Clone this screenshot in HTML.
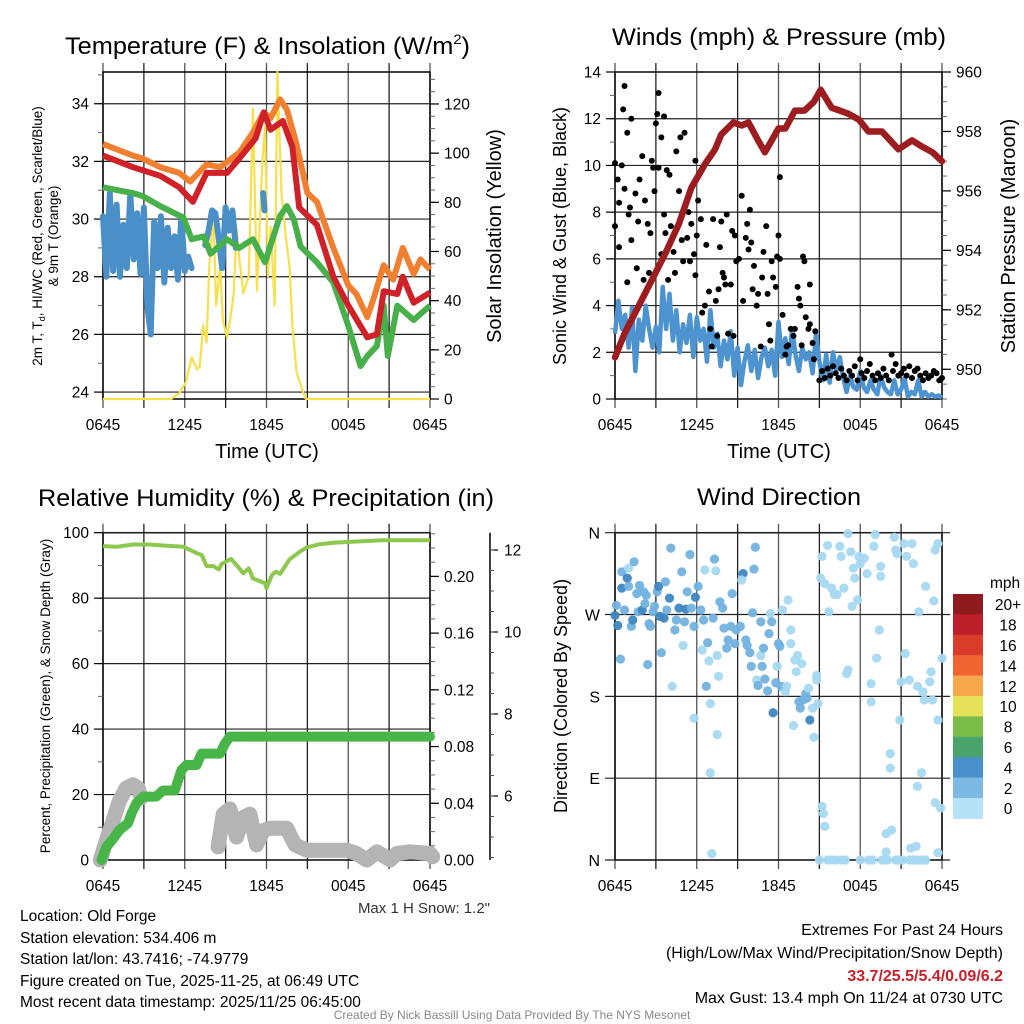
<!DOCTYPE html>
<html><head><meta charset="utf-8"><style>
html,body{margin:0;padding:0;background:#fff;}
svg{display:block;font-family:"Liberation Sans",sans-serif;}
</style></head><body>
<svg id="fig" width="1024" height="1024" viewBox="0 0 1024 1024" xmlns="http://www.w3.org/2000/svg">
<rect width="1024" height="1024" fill="#fff"/>
<text x="65" y="54" font-size="24" textLength="405" lengthAdjust="spacingAndGlyphs">Temperature (F) &amp; Insolation (W/m<tspan font-size="14" dy="-10">2</tspan><tspan dy="10">)</tspan></text>
<text x="612" y="45" font-size="24" textLength="334" lengthAdjust="spacingAndGlyphs">Winds (mph) &amp; Pressure (mb)</text>
<text x="38" y="506" font-size="24" textLength="456" lengthAdjust="spacingAndGlyphs">Relative Humidity (%) &amp; Precipitation (in)</text>
<text x="697" y="505" font-size="24" textLength="164" lengthAdjust="spacingAndGlyphs">Wind Direction</text>

<text x="267" y="458" font-size="20" text-anchor="middle">Time (UTC)</text>
<text x="779" y="458" font-size="20" text-anchor="middle">Time (UTC)</text>
<text transform="translate(42,236) rotate(-90)" font-size="13.5" text-anchor="middle">2m T, T<tspan font-size="9" dy="3">d</tspan><tspan dy="-3">, HI/WC (Red, Green, Scarlet/Blue)</tspan></text>
<text transform="translate(58,236) rotate(-90)" font-size="13.5" text-anchor="middle">&amp; 9m T (Orange)</text>
<text transform="translate(501,236) rotate(-90)" font-size="20" text-anchor="middle">Solar Insolation (Yellow)</text>
<text transform="translate(566,236) rotate(-90)" font-size="18" text-anchor="middle">Sonic Wind &amp; Gust (Blue, Black)</text>
<text transform="translate(1015,236) rotate(-90)" font-size="20" text-anchor="middle">Station Pressure (Maroon)</text>
<text transform="translate(50,696) rotate(-90)" font-size="13.5" text-anchor="middle">Percent, Precipitation (Green), &amp; Snow Depth (Gray)</text>
<text transform="translate(567,696) rotate(-90)" font-size="18" text-anchor="middle">Direction (Colored By Speed)</text>

<text x="490" y="913" font-size="15" text-anchor="end" fill="#333">Max 1 H Snow: 1.2"</text>
<g font-size="15.5" fill="#000">
<text x="20" y="921">Location: Old Forge</text>
<text x="20" y="943">Station elevation: 534.406 m</text>
<text x="20" y="964">Station lat/lon: 43.7416; -74.9779</text>
<text x="20" y="986">Figure created on Tue, 2025-11-25, at 06:49 UTC</text>
<text x="20" y="1007">Most recent data timestamp: 2025/11/25 06:45:00</text>
</g>
<g font-size="16" text-anchor="end">
<text x="1003" y="935">Extremes For Past 24 Hours</text>
<text x="1003" y="958">(High/Low/Max Wind/Precipitation/Snow Depth)</text>
<text x="1003" y="981" fill="#c8202a" font-weight="bold">33.7/25.5/5.4/0.09/6.2</text>
<text x="1003" y="1003">Max Gust: 13.4 mph On 11/24 at 0730 UTC</text>
</g>
<text x="512" y="1019" font-size="12" text-anchor="middle" fill="#888">Created By Nick Bassill Using Data Provided By The NYS Mesonet</text>
<g id="layer"></g>
</svg>
<script>
// ---------- DATA ----------
const xTickLabels = ["0645","1245","1845","0045","0645"];
// Temperature panel (hours since 0645)
const orangeT = [0,2.2,2.9,4.2,5.6,6.4,7.6,8.6,10,11,11.8,12.3,13,13.5,14.2,15,15.7,16.9,18,18.6,19.4,19.9,20.6,21.3,22,22.8,23.3,24];
const orangeV = [32.6,32.2,32.1,31.8,31.6,31.3,31.9,31.8,32.3,33.0,33.7,33.5,34.15,33.8,32.6,30.9,30.6,29.0,27.7,27.4,26.6,27.3,28.4,27.9,29.0,28.1,28.6,28.25];
const redT = [0,2.2,4.2,5.6,6.6,7.6,9.1,10,11.2,11.8,12.3,13.2,13.9,14.4,15.7,16.9,18,19.4,20.1,20.6,21.6,22,22.8,24];
const redV = [32.2,31.8,31.5,31.1,30.6,31.6,31.6,32.1,32.8,33.7,33.1,33.4,32.5,30.4,29.8,28.0,27.0,25.9,26.0,27.5,27.4,28.0,27.1,27.45];
const greenT = [0,2.2,2.9,4.2,5.9,6.5,7.4,7.9,9.1,10,11,11.9,12.985,13.5,14,14.5,15.7,16.9,18,18.9,19.4,20.1,20.6,20.9,21.6,22.8,24];
const greenV = [31.1,30.9,30.8,30.45,30.05,29.3,29.4,28.8,29.3,29.0,29.3,28.5,30.1,30.45,30.0,29.05,28.5,27.8,26.3,24.9,25.25,25.6,27.0,25.25,27.0,26.5,27.0];
const dewT = [0,.25,.5,.75,1,1.25,1.5,1.75,2,2.25,2.5,2.75,3,3.25,3.5,3.75,4,4.25,4.5,4.75,5,5.25,5.5,5.75,6,6.25,6.5,null,7.5,7.75,8,8.25,8.5,8.75,9,9.25,9.5,9.75,null,11.75,11.85];
const dewV = [30.1,28.0,30.9,28.2,30.5,28.0,29.8,28.3,30.9,28.6,30.2,28.1,30.4,27.0,26.0,29.9,28.3,30.1,27.8,29.7,28.3,29.4,27.9,30.1,28.2,28.7,28.3,null,29.1,29.6,30.3,30.2,29.3,28.3,30.4,29.6,30.3,29.0,null,30.9,30.3];
const solarT = [0,5,5.6,6.1,6.5,6.9,7.1,7.35,7.6,7.8,8.1,8.3,8.6,8.8,9.1,9.3,9.6,9.8,10.0,10.3,10.7,11.0,11.3,11.7,11.9,12.1,12.3,12.6,12.8,13.1,13.4,13.7,13.9,14.2,14.7,14.9,24];
const solarV = [0,0,2.4,7,17,12,13,30,23,54,76,38,54,32,25,31,43,70,57,43,50,118,44,97,111,50,70,38,133,84,67,53,30,11,2.4,0,0];
// Wind panel
const windStep = 0.25;
const windV = [2.8,4.2,3.0,3.6,2.2,3.9,1.2,3.4,2.5,4.0,3.0,2.2,3.1,2.0,4.8,3.0,
 4.5,2.5,3.8,2.0,3.2,2.4,3.6,1.8,3.5,2.5,3.0,1.6,3.8,2.2,2.8,1.4,
 2.5,1.7,2.9,1.0,2.2,0.6,1.6,2.3,1.2,2.1,0.9,1.8,2.2,1.4,2.1,1.0,
 3.3,1.8,2.6,1.5,3.0,1.9,1.2,2.2,1.7,2.0,1.1,2.8,1.6,0.8,1.9,0.7,
 2.0,1.2,1.8,0.9,0.3,1.0,0.5,0.4,1.2,0.5,0.3,0.8,0.4,0.2,1.0,0.5,
 0.3,0.2,0.8,0.2,0.4,0.9,0.1,0.3,0.2,0.8,0.1,0.3,0.1,0.2,0.1,0.15,0.05];
const gustT = [0,0,0.2,0.3,0.3,0.5,0.6,0.7,0.7,0.9,0.9,1.0,1.1,1.2,1.2,1.5,1.6,1.7,1.8,2.0,2.1,2.2,2.4,2.5,2.6,2.7,2.8,2.9,3.0,3.1,3.2,3.2,3.4,3.4,3.6,3.6,3.7,3.8,3.9,4.0,4.1,4.3,4.4,4.5,4.7,4.8,4.9,5.0,5.1,5.3,5.4,5.5,5.6,5.8,5.9,5.9,6.0,6.1,6.3,6.4,6.6,6.7,6.9,7.0,7.1,7.2,7.4,7.5,7.6,7.7,7.8,7.9,8.0,8.1,8.2,8.3,8.5,8.6,8.7,8.8,8.9,9.1,9.3,9.4,9.6,9.7,9.8,9.9,10.0,10.1,10.2,10.4,10.5,10.7,10.8,10.9,11.1,11.2,11.3,11.4,11.5,11.6,11.8,11.9,12.0,12.1,12.1,12.3,12.5,12.6,12.7,12.9,13.1,13.2,13.4,13.5,13.6,13.7,13.8,13.9,14.0,14.2,14.3,14.3,14.5,14.6,14.7,
 15.0,15.2,15.4,15.6,15.8,16.0,16.2,16.4,16.6,16.8,17.0,17.2,17.4,17.6,17.8,18.0,18.1,18.3,18.5,18.7,18.9,19.1,19.3,19.5,19.7,19.9,20.1,20.3,20.4,20.6,20.8,21.0,21.2,21.4,21.6,21.8,22.0,22.2,22.4,22.6,22.8,23.0,23.2,23.4,23.6,23.8,24.0];
const gustV = [10.1,7.4,9.4,8.4,6.5,10.0,12.4,13.4,9.0,11.4,5.0,7.9,8.2,12.0,6.8,8.8,5.6,7.6,9.4,10.4,5.1,8.5,7.5,5.4,7.1,10.2,9.9,8.9,11.8,12.2,9.9,13.1,11.2,6.2,12.1,7.9,7.1,9.8,5.1,9.6,7.4,6.3,5.4,10.6,8.9,11.2,6.8,5.9,11.4,6.9,8.0,5.9,7.5,6.2,5.3,10.2,7.0,8.5,7.7,3.7,4.0,6.6,4.6,3.0,2.25,7.7,4.2,2.7,4.7,6.5,7.6,5.4,5.2,4.9,7.9,2.8,4.9,7.2,2.7,7.0,5.9,6.0,8.7,4.2,6.9,7.5,6.4,8.1,6.7,4.7,5.7,4.0,4.5,2.25,5.2,6.3,7.4,4.5,3.2,2.5,5.9,5.2,4.8,6.1,7.0,9.5,6.0,3.6,1.9,2.25,2.3,3.0,2.7,3.0,4.8,4.3,4.0,2.3,6.1,5.9,3.5,3.0,4.9,3.2,2.4,1.7,2.9,
 0.8,1.2,0.9,1.3,1.0,1.4,1.1,0.9,1.3,1.0,0.8,1.2,1.0,1.4,0.8,1.7,1.1,0.9,1.2,1.5,1.0,0.8,1.1,0.9,1.3,1.0,0.8,1.9,1.2,1.5,1.0,1.1,1.3,1.0,1.4,0.9,1.2,1.3,1.0,0.8,1.1,0.9,1.0,1.2,1.1,0.8,0.9];
const presT = [0,0.7,1.7,2.7,3.7,4.7,5.6,6.6,7.35,7.8,8.7,9.3,9.8,10.5,11.0,11.5,12.0,12.5,13.2,13.9,14.6,15.1,15.9,17.1,17.9,18.6,19.6,20.8,21.8,22.5,23.3,24];
const presV = [950.4,951.2,952.1,953.0,953.9,954.9,956.1,956.9,957.4,957.9,958.3,958.2,958.3,957.7,957.3,957.7,958.1,958.1,958.7,958.7,959.0,959.4,958.8,958.6,958.4,958.0,958.0,957.4,957.7,957.5,957.3,957.0];
// RH / precip / snow
const rhT = [0,1,2.2,3.4,4.7,5.9,6.4,6.9,7.25,7.6,8.1,8.5,8.7,9.4,9.9,10.3,10.7,11.0,11.5,11.9,12.0,12.4,12.7,13.0,13.7,14.45,14.95,15.9,16.9,18.1,20.6,24];
const rhV = [95.9,95.7,96.4,96.4,96.0,95.7,94.7,93.7,93.2,89.8,89.8,88.8,90.4,92.0,89.6,87.6,89.1,86.0,85.2,84.5,83.0,87.1,88.1,87.4,91.9,94.2,95.5,96.5,96.9,97.2,97.7,97.7];
const precipT = [-0.1,0.25,0.75,1.2,1.84,2.1,2.45,2.94,3.9,4.4,5.27,5.76,6.13,6.86,7.24,8.58,8.95,9.31,24];
const precipV = [0,0.0094,0.015,0.021,0.026,0.033,0.04,0.0447,0.0447,0.049,0.049,0.0635,0.067,0.067,0.075,0.075,0.082,0.087,0.087];
const snowT = [-0.2,0.25,0.74,1.2,1.7,2.2,2.57,2.8,null,8.45,8.82,9.31,9.8,10.3,10.78,11.27,11.76,12.25,13.48,14.1,14.95,17.9,18.6,19.36,20.1,21.08,21.57,22.55,24,24.2];
const snowV = [0,6,12,18,22,23,22,19,null,4,14,15.6,7,13,14,4.6,9,9.7,9.7,4.6,3,3,2,0,2.5,0,2,2.5,2,1];
// Wind direction scatter
const dirT = [0,0.1,0.2,0.5,0.5,0.4,0.7,0.9,1.0,1.0,1.2,1.3,1.4,1.6,1.7,1.8,2.0,2.1,2.2,2.3,2.4,2.5,2.6,2.8,2.9,3.1,3.2,3.3,3.4,3.6,3.7,3.8,4.0,4.1,4.2,4.4,4.5,4.7,4.9,5.0,5.1,5.2,5.3,5.5,5.6,5.8,5.9,6.1,5.8,6.3,6.4,6.5,6.6,6.7,6.8,6.9,7.0,7.0,7.1,7.2,7.3,7.4,7.5,7.5,7.6,7.7,7.9,8.0,8.2,8.3,8.5,8.6,8.8,8.9,9.2,9.4,9.3,9.6,9.7,9.9,10.0,10.1,10.2,10.3,10.4,10.5,10.7,10.7,10.8,10.9,11.0,11.2,11.3,11.4,11.5,11.6,11.8,11.9,12.0,12.1,12.2,12.3,12.5,12.6,12.7,12.9,12.9,13.1,13.2,13.3,13.4,13.5,13.6,13.7,13.8,14.0,14.1,14.2,14.3,14.5,14.6,14.8,14.8,14.9,
 15.1,15.2,15.2,15.3,15.4,15.4,15.6,15.7,15.9,16.1,16.3,16.5,16.6,16.8,17.0,17.1,17.1,17.3,17.4,17.5,17.6,17.8,17.9,18.0,18.3,18.5,18.8,18.8,19.0,19.1,19.2,19.4,19.5,19.5,19.9,19.9,20.2,20.2,20.3,20.5,20.6,20.7,20.9,21.0,21.2,21.3,21.4,21.6,21.7,21.8,21.9,22.1,22.2,22.2,22.3,22.5,22.6,22.7,22.8,23.1,23.2,23.3,23.4,23.5,23.5,23.7,23.7,23.9,24.0,23.7,
 15.0,15.6,15.9,16.2,16.6,16.9,18.0,18.6,18.9,19.6,19.8,20.0,20.6,20.8,21.1,21.6,21.9,22.1,22.4,22.6,22.8];
const dirV = [269,280,258,317,299,221,275,310,321,301,257,264,328,293,273,302,275,295,282,291,215,260,257,273,279,295,301,268,228,266,306,275,288,343,191,253,264,277,317,236,262,276,295,336,277,257,289,301,156,275,231,264,319,191,239,219,172,96,7,266,331,318,225,138,202,284,277,255,233,242,257,293,238,253,257,315,308,242,236,228,213,272,320,344,198,192,262,225,213,233,199,186,249,271,262,162,195,213,238,235,191,275,185,191,286,253,238,148,220,207,225,174,167,216,176,183,178,189,154,167,135,198,203,172,
 310,334,59,51,37,304,346,273,299,292,292,345,334,299,205,209,359,339,279,321,310,286,334,326,332,315,194,174,345,358,222,253,312,323,9,29,117,101,33,355,341,337,154,196,348,227,334,198,13,348,326,15,81,191,273,96,185,176,301,196,207,176,285,341,63,348,154,57,222,8,
 0,0,0,0,0,0,0,0,0,0,0,0,0,0,0,0,0,0,0,0,0];
const dirSpd = [3,2,3,2,3,2,2,3,1,2,2,3,2,2,2,2,3,2,2,2,2,2,2,2,2,2,3,3,2,3,2,2,3,2,1,2,2,3,2,1,2,3,2,2,2,2,3,2,1,2,1,2,1,2,2,1,1,1,1,2,2,1,1,1,1,2,2,2,2,2,2,2,2,2,2,3,1,2,2,2,2,2,2,2,1,2,2,1,2,2,2,2,2,1,2,3,2,1,2,2,2,1,1,1,1,1,1,1,1,1,1,2,2,1,2,2,2,1,3,1,1,1,1,1,
 1,1,1,1,1,1,1,1,1,1,1,1,1,1,1,1,1,1,1,1,1,1,1,1,1,1,1,1,1,1,1,1,1,1,1,1,1,1,1,1,1,1,1,1,1,1,1,1,1,1,1,1,1,1,1,1,1,1,1,1,1,1,1,1,1,1,1,1,1,1,
 1,1,1,1,1,1,1,1,1,1,1,1,1,1,1,1,1,1,1,1,1];
const cbLabels = ["20+","18","16","14","12","10","8","6","4","2","0"];
const cbColors = ["#8e1a1d","#bf1e2b","#db3b2b","#ef6430","#f6a84a","#e5e25a","#7bbf4a","#48a36c","#4a90c8","#7cb9e3","#b6e2f7"];
const spdColors = ["#b6e2f7","#a6d8f2","#72b2df","#3f87c4"];

// ---------- DRAW ----------
const NS="http://www.w3.org/2000/svg";
const layer=document.getElementById('layer');
function mk(tag,attrs,parent){const e=document.createElementNS(NS,tag);for(const k in attrs)e.setAttribute(k,attrs[k]);(parent||layer).appendChild(e);return e;}
function lin(d0,d1,r0,r1){return v=>r0+(v-d0)*(r1-r0)/(d1-d0);}

const panels={
 tl:{x0:103,x1:430,y0:72,y1:399},
 tr:{x0:615,x1:942,y0:72,y1:399},
 bl:{x0:103,x1:430,y0:532.7,y1:860},
 br:{x0:615,x1:942,y0:532.7,y1:860}
};
function frame(p,name){
 const g=mk('g',{});
 
 
 for(let i=0;i<=8;i++){
  const x=p.x0+(p.x1-p.x0)*i/8;
  const l=mk('line',{x1:x,x2:x,y1:p.y0-9,y2:p.y1+9,stroke:i%2?'#222':'#555','stroke-width':1.3},g);
  
  
 }
 for(let i=0;i<5;i++){
  const t=mk('text',{x:p.x0+(p.x1-p.x0)*i/4,y:p.y1+31,'font-size':15.5,'text-anchor':'middle'},g);
  t.textContent=xTickLabels[i];
  
  
 }
 const r=mk('rect',{x:p.x0,y:p.y0,width:p.x1-p.x0,height:p.y1-p.y0,fill:'none',stroke:'#000','stroke-width':1.5},g);
 
 
 return g;
}
function yAxis(p,side,d0,d1,majors,minorStep,fmt,grid,name,axX){
 const g=mk('g',{});
 
 
 const sy=lin(d0,d1,p.y1,p.y0);
 const ax=axX!==undefined?axX:(side==='l'?p.x0:p.x1);
 const dir=side==='l'?-1:1;
 if(minorStep){
  for(let v=Math.ceil(d0/minorStep)*minorStep;v<=d1+1e-9;v+=minorStep){
   const m=mk('line',{x1:ax,x2:ax+dir*5,y1:sy(v),y2:sy(v),stroke:'#666','stroke-width':1},g);
   
   
  }
 }
 majors.forEach(v=>{
  const y=sy(v);
  if(grid){
   const gl=mk('line',{x1:p.x0,x2:p.x1,y1:y,y2:y,stroke:'#222','stroke-width':1.2},g);
   
   
  }
  const tk=mk('line',{x1:ax,x2:ax+dir*9,y1:y,y2:y,stroke:'#000','stroke-width':1.2},g);
  
  
  const t=mk('text',{x:ax+dir*14,y:y+5.5,'font-size':15.5,'text-anchor':side==='l'?'end':'start'},g);
  t.textContent=fmt(v);
  
  
 });
 return sy;
}
function pathD(ts,vs,sx,sy){let d='',pen=false;for(let i=0;i<ts.length;i++){if(ts[i]===null||vs[i]===null){pen=false;continue;}d+=(pen?'L':'M')+sx(ts[i]).toFixed(1)+','+sy(vs[i]).toFixed(1);pen=true;}return d;}

// --- Temperature panel ---
let p=panels.tl;
frame(p,'temperature-panel-frame');
let sx=lin(0,24,p.x0,p.x1);
let syL=yAxis(p,'l',23.76,35.1,[24,26,28,30,32,34],1,v=>v,true,'temperature-y-axis');
let syR=yAxis(p,'r',0,133,[0,20,40,60,80,100,120],5,v=>v,false,'solar-y-axis');
let e;
e=mk('path',{d:pathD(solarT,solarV,sx,syR),fill:'none',stroke:'#f7e04a','stroke-width':2.2,'stroke-linejoin':'round'});


e=mk('path',{d:pathD(dewT,dewV,sx,syL),fill:'none',stroke:'#4a8fc8','stroke-width':6,'stroke-linejoin':'round','stroke-linecap':'round'});


e=mk('path',{d:pathD(greenT,greenV,sx,syL),fill:'none',stroke:'#48b04a','stroke-width':6,'stroke-linejoin':'round'});


e=mk('path',{d:pathD(orangeT,orangeV,sx,syL),fill:'none',stroke:'#f08030','stroke-width':6,'stroke-linejoin':'round'});


e=mk('path',{d:pathD(redT,redV,sx,syL),fill:'none',stroke:'#d02028','stroke-width':6,'stroke-linejoin':'round'});



// --- Wind panel ---
p=panels.tr;
frame(p,'wind-panel-frame');
sx=lin(0,24,p.x0,p.x1);
syL=yAxis(p,'l',0,14,[0,2,4,6,8,10,12,14],1,v=>v,true,'wind-speed-y-axis');
syR=yAxis(p,'r',949,960,[950,952,954,956,958,960],0.5,v=>v,false,'pressure-y-axis');
const windT=windV.map((v,i)=>i*windStep);
e=mk('path',{d:pathD(windT,windV,sx,syL),fill:'none',stroke:'#4c93d0','stroke-width':4.5,'stroke-linejoin':'round'});


gustT.forEach((t,i)=>{
 const c=mk('circle',{cx:sx(t),cy:syL(gustV[i]),r:3,fill:'#000'});
 
 
});
e=mk('path',{d:pathD(presT,presV,sx,syR),fill:'none',stroke:'#9c1c20','stroke-width':6.5,'stroke-linejoin':'round','stroke-linecap':'round'});



// --- RH panel ---
p=panels.bl;
frame(p,'rh-panel-frame');
sx=lin(0,24,p.x0,p.x1);
syL=yAxis(p,'l',0,100,[0,20,40,60,80,100],10,v=>v,true,'percent-y-axis');
const syP=yAxis(p,'r',0,0.2308,[0,0.04,0.08,0.12,0.16,0.20],0.01,v=>v.toFixed(2),false,'precip-y-axis');
const snowAxisX=490;
e=mk('line',{x1:snowAxisX,x2:snowAxisX,y1:p.y0,y2:p.y1,stroke:'#000','stroke-width':1.5});


const sySnow=lin(6,12,796,550);
[6,8,10,12].forEach(v=>{
 const tk=mk('line',{x1:snowAxisX,x2:snowAxisX+8,y1:sySnow(v),y2:sySnow(v),stroke:'#000','stroke-width':1.2});
 
 
 const t=mk('text',{x:snowAxisX+14,y:sySnow(v)+5.5,'font-size':15.5});
 t.textContent=v;
 
 
});
for(let v=4.5;v<=12.4;v+=0.5){
 const m=mk('line',{x1:snowAxisX,x2:snowAxisX+4,y1:sySnow(v),y2:sySnow(v),stroke:'#555','stroke-width':1});
 
 
}
e=mk('path',{d:pathD(snowT,snowV,sx,syL),fill:'none',stroke:'#b4b4b4','stroke-width':15,'stroke-linejoin':'round','stroke-linecap':'round'});


e=mk('path',{d:pathD(precipT,precipV,sx,syP),fill:'none',stroke:'#48b548','stroke-width':10,'stroke-linejoin':'round','stroke-linecap':'round'});


e=mk('path',{d:pathD(rhT,rhV,sx,syL),fill:'none',stroke:'#8dc84e','stroke-width':4,'stroke-linejoin':'round'});



// --- Wind direction panel ---
p=panels.br;
frame(p,'direction-panel-frame');
sx=lin(0,24,p.x0,p.x1);
const syD=lin(0,360,p.y1,p.y0);
const dirLabels=["N","E","S","W","N"];
dirLabels.forEach((lab,i)=>{
 const y=syD(i*90);
 const gl=mk('line',{x1:p.x0-10,x2:p.x1+8,y1:y,y2:y,stroke:'#222','stroke-width':1.2});
 
 
 const t=mk('text',{x:p.x0-15,y:y+6,'font-size':16,'text-anchor':'end'});
 t.textContent=lab;
 
 
});
dirT.forEach((t,i)=>{
 const c=mk('circle',{cx:sx(t),cy:syD(dirV[i]),r:4.6,fill:spdColors[dirSpd[i]],'fill-opacity':0.95});
 
 
});
// colorbar
const cbX=953,cbY=594,cbW=30,cbH=20.4;
e=mk('text',{x:990,y:588,'font-size':15.5});
e.textContent='mph';


cbColors.forEach((c,i)=>{
 const r=mk('rect',{x:cbX,y:cbY+i*cbH,width:cbW,height:cbH+0.5,fill:c});
 
 
 const t=mk('text',{x:1008,y:cbY+i*cbH+cbH/2+6,'font-size':15.5,'text-anchor':'middle'});
 t.textContent=cbLabels[i];
 
 
});
</script>
</body></html>
